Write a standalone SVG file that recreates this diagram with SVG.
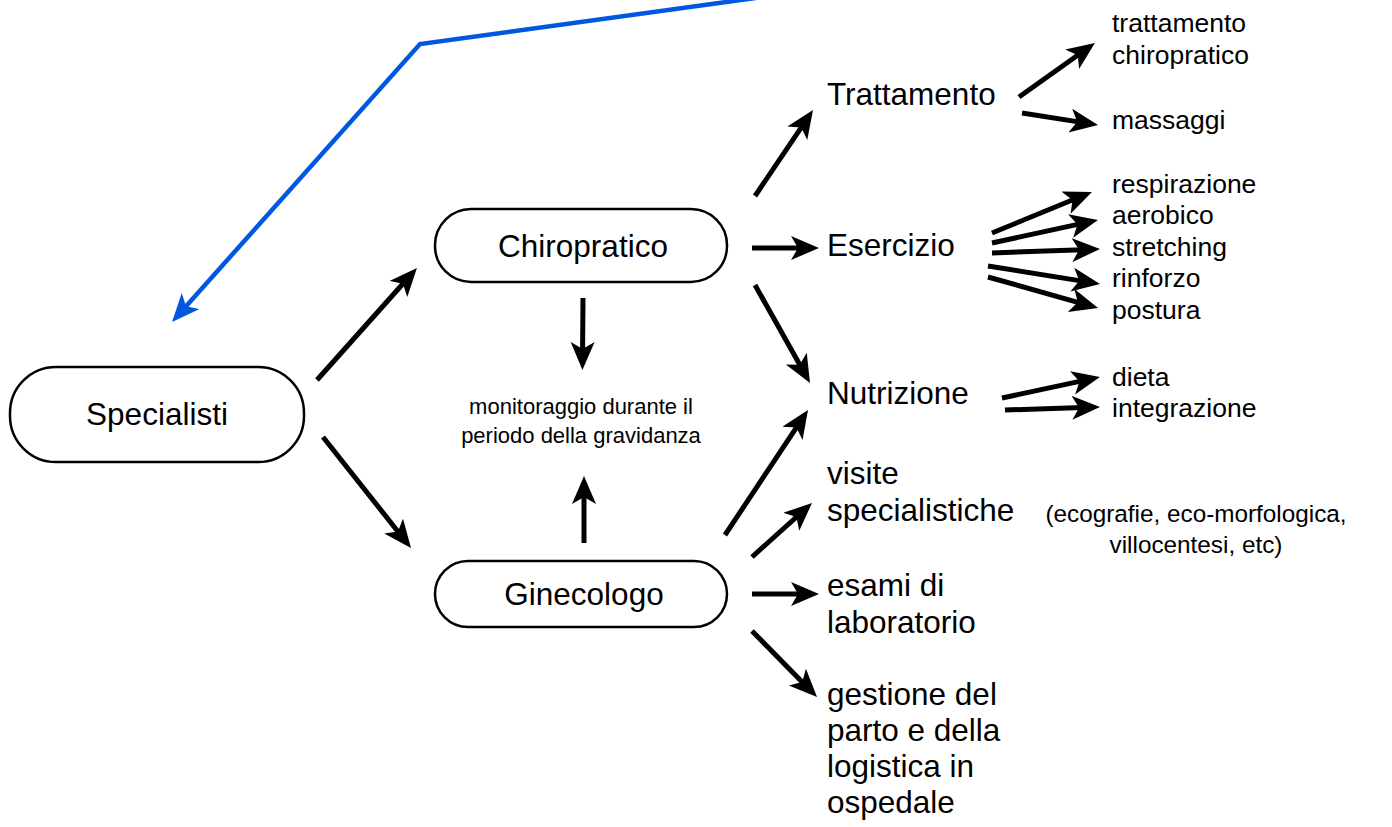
<svg xmlns="http://www.w3.org/2000/svg" width="1392" height="827" viewBox="0 0 1392 827">
<defs>
<style>
.box{fill:#fff;stroke:#000;stroke-width:2.5}
.t{font-family:"Liberation Sans",Arial,sans-serif;fill:#000}
.big{font-size:31.5px}
.mid{font-size:26.5px}
.sm{font-size:22px}
.par{font-size:24.3px}
.c{stroke:#000;stroke-width:5;fill:none;marker-end:url(#ah)}
.b{stroke:#0057e0;stroke-width:4.5;fill:none;marker-end:url(#ahb)}
</style>
<marker id="ah" markerUnits="userSpaceOnUse" markerWidth="30" markerHeight="26" refX="18" refY="12" orient="auto">
<path d="M0,0 L28,12 L0,24 L7,12 z" fill="#000"/>
</marker>
<marker id="ahb" markerUnits="userSpaceOnUse" markerWidth="30" markerHeight="26" refX="18" refY="12" orient="auto">
<path d="M0,0 L28,12 L0,24 L7,12 z" fill="#0057e0"/>
</marker>
</defs>
<rect width="1392" height="827" fill="#fff"/>
<g id="connectors">
<path class="b" d="M770,-4 L420,44 L178.7,314.5"/>
<line class="c" x1="317" y1="380" x2="410.3" y2="275.5"/>
<line class="c" x1="323" y1="437" x2="404.8" y2="540.2"/>
<line class="c" x1="583" y1="298" x2="582.5" y2="360"/>
<line class="c" x1="584" y1="543" x2="584" y2="486"/>
<line class="c" x1="755" y1="196" x2="807.4" y2="118.3"/>
<line class="c" x1="752" y1="248" x2="809" y2="248"/>
<line class="c" x1="755" y1="285" x2="805.1" y2="374.3"/>
<line class="c" x1="725" y1="535" x2="802.5" y2="418.3"/>
<line class="c" x1="752" y1="557" x2="804.6" y2="509.7"/>
<line class="c" x1="752" y1="594" x2="809" y2="594"/>
<line class="c" x1="752" y1="631" x2="810" y2="689.9"/>
<line class="c" x1="1019" y1="97" x2="1086.8" y2="48.8"/>
<line class="c" x1="1022" y1="113" x2="1088.1" y2="123.4"/>
<line class="c" x1="992" y1="233" x2="1082.7" y2="195.8"/>
<line class="c" x1="992" y1="243" x2="1088.2" y2="222.1"/>
<line class="c" x1="992" y1="253" x2="1090" y2="249.4"/>
<line class="c" x1="988" y1="266" x2="1090.1" y2="282.4"/>
<line class="c" x1="988" y1="277" x2="1088.4" y2="305.3"/>
<line class="c" x1="1002" y1="398" x2="1090.2" y2="379.1"/>
<line class="c" x1="1005" y1="410" x2="1090" y2="407.3"/>
</g>
<g id="specialisti">
<rect class="box" x="10" y="367" width="294" height="95" rx="46"/>
<text class="t big" x="157" y="425" text-anchor="middle">Specialisti</text>
</g>
<g id="chiropratico">
<rect class="box" x="435" y="209" width="292" height="73" rx="36"/>
<text class="t big" x="583" y="257" text-anchor="middle">Chiropratico</text>
</g>
<g id="ginecologo">
<rect class="box" x="435" y="561" width="292" height="66" rx="33"/>
<text class="t big" x="584" y="605" text-anchor="middle">Ginecologo</text>
</g>
<g id="monitoraggio">
<text class="t sm" x="581" y="414" text-anchor="middle">monitoraggio durante il</text>
<text class="t sm" x="581" y="443" text-anchor="middle">periodo della gravidanza</text>
</g>
<g id="trattamento">
<text class="t big" x="827" y="105">Trattamento</text>
</g>
<g id="esercizio">
<text class="t big" x="827" y="256">Esercizio</text>
</g>
<g id="nutrizione">
<text class="t big" x="827" y="404">Nutrizione</text>
</g>
<g id="visite">
<text class="t big" x="827" y="484">visite</text>
<text class="t big" x="827" y="521">specialistiche</text>
</g>
<g id="esami">
<text class="t big" x="827" y="596">esami di</text>
<text class="t big" x="827" y="633">laboratorio</text>
</g>
<g id="gestione">
<text class="t big" x="827" y="705">gestione del</text>
<text class="t big" x="827" y="741">parto e della</text>
<text class="t big" x="827" y="777">logistica in</text>
<text class="t big" x="827" y="813">ospedale</text>
</g>
<g id="tratt-chiro">
<text class="t mid" x="1112" y="32">trattamento</text>
<text class="t mid" x="1112" y="64">chiropratico</text>
</g>
<g id="massaggi"><text class="t mid" x="1112" y="129">massaggi</text></g>
<g id="respirazione"><text class="t mid" x="1112" y="193">respirazione</text></g>
<g id="aerobico"><text class="t mid" x="1112" y="224">aerobico</text></g>
<g id="stretching"><text class="t mid" x="1112" y="256">stretching</text></g>
<g id="rinforzo"><text class="t mid" x="1112" y="287">rinforzo</text></g>
<g id="postura"><text class="t mid" x="1112" y="319">postura</text></g>
<g id="dieta"><text class="t mid" x="1112" y="386">dieta</text></g>
<g id="integrazione"><text class="t mid" x="1112" y="417">integrazione</text></g>
<g id="ecografie">
<text class="t par" x="1196" y="522" text-anchor="middle">(ecografie, eco-morfologica,</text>
<text class="t par" x="1196" y="553" text-anchor="middle">villocentesi, etc)</text>
</g>
</svg>
